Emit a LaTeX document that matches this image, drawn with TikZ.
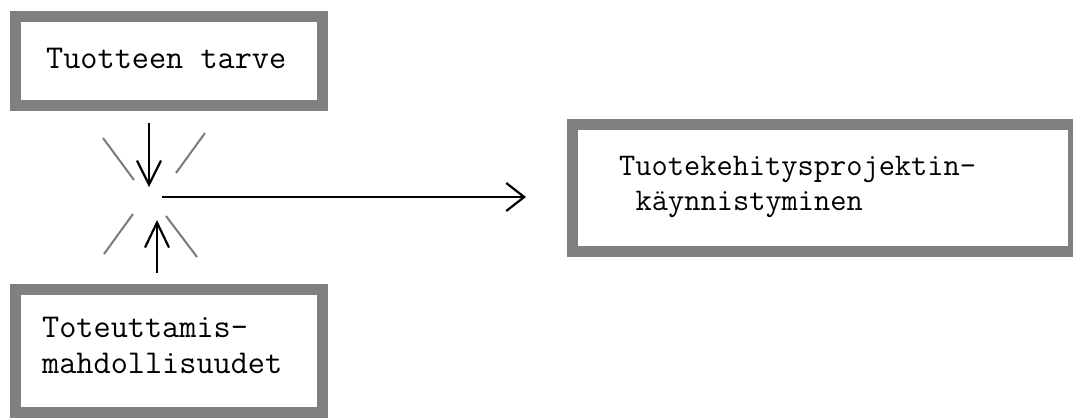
\documentclass[tikz,border=0pt]{standalone}
\usepackage{fontspec}
\usetikzlibrary{arrows.meta}
\definecolor{frame}{HTML}{808080}
\definecolor{ray}{HTML}{7A7A7A}
\tikzset{
  box/.style={draw=frame, line width=11pt, fill=white, inner sep=0pt},
  label/.style={inner sep=0pt, anchor=base west, align=left, font=\ttfamily\fontsize{33.3}{36}\selectfont},
  arr/.style={draw=black, line width=2.2pt},
  spark/.style={draw=ray, line width=2pt},
}
\begin{document}
\begin{tikzpicture}[x=1pt, y=-1pt]
  \useasboundingbox (0,0) rectangle (1073,418);
  \clip (0,0) rectangle (1073,418);

  % the three boxes
  \node[box, minimum width=307pt, minimum height=89pt] (t) at (169,61) {};
  \node[box, minimum width=307pt, minimum height=123.5pt] (b) at (169,350.75) {};
  \node[box, minimum width=501.5pt, minimum height=127pt] (r) at (822.75,187.5) {};

  % box texts (base anchor sits on the last line)
  \node[label] (tlab) at (46,68) {Tuotteen tarve};
  \node[label] (blab) at (42,373) {Toteuttamis-\\mahdollisuudet};
  \node[label, font=\ttfamily\fontsize{31.5}{35}\selectfont] (rlab) at (619,210)
    {Tuotekehitysprojektin-\\\hspace*{0.525em}käynnistyminen};

  % meeting point of the two inputs
  \coordinate (hub) at (152,197);
  \coordinate (hubD) at (149,197);
  \coordinate (hubU) at (157,197);

  % rays around the meeting point
  \draw[spark] (103,138) -- (134,180);
  \draw[spark] (205,133) -- (176,173);
  \draw[spark] (133,214) -- (104,254);
  \draw[spark] (166,216) -- (197,257);

  % connectors
  \draw[arr, -{Straight Barb[length=24pt, width=24pt]}, shorten <=12pt, shorten >=10pt]
    (t.south -| hubD) -- (hubD);
  \draw[arr, -{Straight Barb[length=25pt, width=24pt]}, shorten <=10.5pt, shorten >=23pt]
    (b.north -| hubU) -- (hubU);
  \draw[arr, -{Straight Barb[length=18pt, width=28pt]}, shorten <=10pt, shorten >=40.5pt]
    (hub) -- (hub -| r.west);
\end{tikzpicture}
\end{document}
